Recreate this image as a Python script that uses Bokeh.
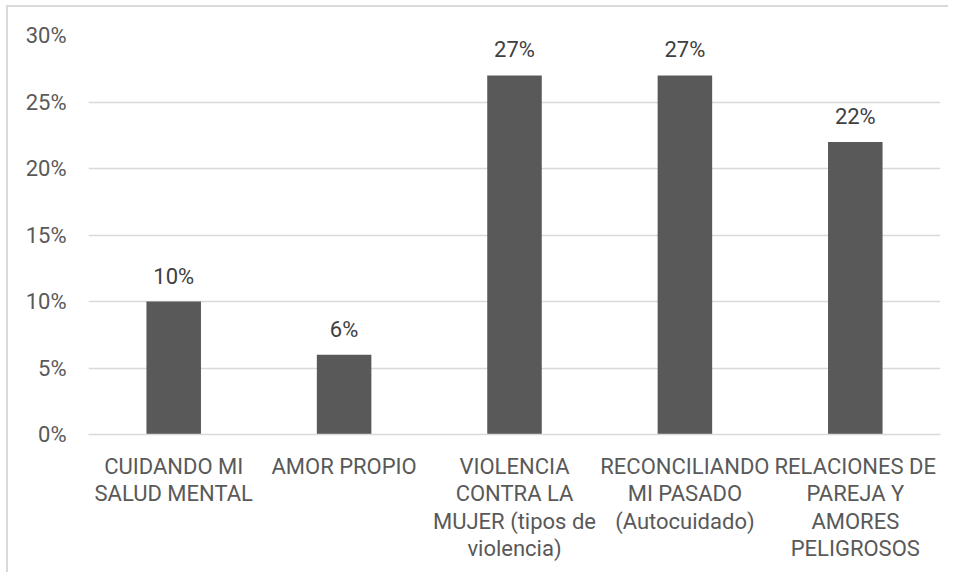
from bokeh.plotting import figure
from bokeh.models import ColumnDataSource, FactorRange, Range1d, FixedTicker, NumeralTickFormatter, LabelSet
from bokeh.core.properties import value
from bokeh.embed import file_html
from bokeh.resources import INLINE

categories = [
    "CUIDANDO MI\nSALUD MENTAL",
    "AMOR PROPIO",
    "VIOLENCIA\nCONTRA LA\nMUJER (tipos de\nviolencia)",
    "RECONCILIANDO\nMI PASADO\n(Autocuidado)",
    "RELACIONES DE\nPAREJA Y\nAMORES\nPELIGROSOS",
]
values = [0.10, 0.06, 0.27, 0.27, 0.22]
value_labels = [f"{round(v*100)}%" for v in values]
y_ticks = [0, 0.05, 0.10, 0.15, 0.20, 0.25, 0.30]

FONT = "Roboto"
TEXT = "#595959"
GRID = "#d9d9d9"

source = ColumnDataSource(dict(cat=categories, val=values, lab=value_labels))

p = figure(
    x_range=FactorRange(*categories),
    y_range=Range1d(0, 0.30),
    frame_width=852, frame_height=399,
    output_backend="svg", toolbar_location=None,
    min_border_left=80, min_border_right=8, min_border_top=28, min_border_bottom=138,
)
p.styles = {"border-top": "2px solid #d9d9d9", "border-left": "2px solid #d9d9d9",
            "margin-left": "6px", "margin-top": "5px"}
p.outline_line_color = None
p.background_fill_color = "white"

p.vbar(x="cat", top="val", width=0.32, source=source, fill_color="#595959", line_color=None)

labels = LabelSet(x="cat", y="val", text="lab", source=source, text_align="center",
                  text_baseline="bottom", y_offset=13, text_font=value(FONT),
                  text_font_size=value("22px"), text_color=value("#404040"))
p.add_layout(labels)

p.yaxis.ticker = FixedTicker(ticks=y_ticks)
p.yaxis.formatter = NumeralTickFormatter(format="0%")
p.yaxis.axis_line_color = None
p.yaxis.major_tick_line_color = None
p.yaxis.minor_tick_line_color = None
p.yaxis.major_label_standoff = 16
p.yaxis.major_label_text_font = FONT
p.yaxis.major_label_text_font_size = "22px"
p.yaxis.major_label_text_color = TEXT

p.xaxis.axis_line_color = GRID
p.xaxis.axis_line_width = 1.5
p.xaxis.major_tick_line_color = None
p.xaxis.minor_tick_line_color = None
p.xaxis.major_label_standoff = 13
p.xaxis.major_label_text_font = FONT
p.xaxis.major_label_text_font_size = "22px"
p.xaxis.major_label_text_color = TEXT
p.xaxis.major_label_text_line_height = 1.1
p.xaxis.major_label_orientation = "horizontal"

p.xgrid.grid_line_color = None
p.ygrid.grid_line_color = GRID
p.ygrid.grid_line_width = 1.5

open("out.html", "w").write(file_html(p, INLINE))
